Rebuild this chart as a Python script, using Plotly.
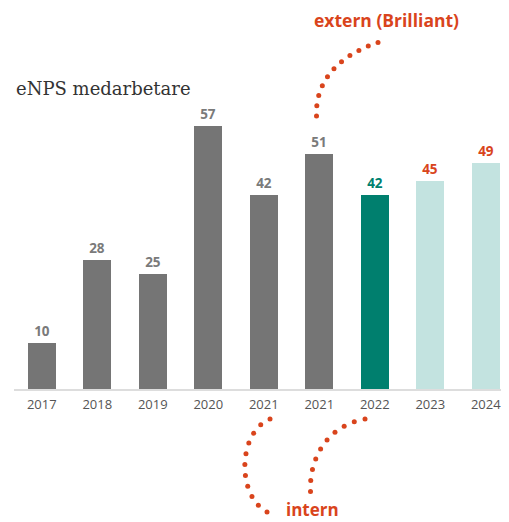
import numpy as np
import plotly.graph_objects as go

# ---- data ----
years = ["2017", "2018", "2019", "2020", "2021", "2021", "2022", "2023", "2024"]
values = [10, 28, 25, 57, 42, 51, 42, 45, 49]
bar_colors = ["#757575"] * 6 + ["#007f6e", "#c3e3e0", "#c3e3e0"]
label_colors = ["#7a7a7a"] * 6 + ["#007f6e", "#d9441c", "#d9441c"]
title_text = "eNPS medarbetare"
note_extern = "extern (Brilliant)"
note_intern = "intern"

OFF = 8  # page body margin
W, H = 509 - OFF, 522
ORANGE = "#d9441c"

# decorative dotted connector curves (cubic Bezier control points, window pixels)
curves = [
    ([(316.5, 116), (315, 80), (340, 55), (378, 42.5)], 11),
    ([(270, 419), (238, 432), (236, 495), (267, 512)], 11),
    ([(365, 419), (330, 425), (309, 455), (310.5, 491.5)], 10),
]


def bezier_dots(ctrl, n):
    p = np.array(ctrl, dtype=float) - OFF
    t = np.linspace(0, 1, 400)[:, None]
    pts = ((1 - t) ** 3) * p[0] + 3 * ((1 - t) ** 2) * t * p[1] + 3 * (1 - t) * t ** 2 * p[2] + t ** 3 * p[3]
    seg = np.sqrt((np.diff(pts, axis=0) ** 2).sum(axis=1))
    s = np.concatenate([[0], np.cumsum(seg)])
    target = np.linspace(0, s[-1], n)
    xs = np.interp(target, s, pts[:, 0])
    ys = np.interp(target, s, pts[:, 1])
    return xs, ys


xpos = list(range(len(years)))

fig = go.Figure()
fig.add_trace(go.Bar(
    x=xpos, y=values, width=0.505,
    marker=dict(color=bar_colors, line=dict(width=0)),
    text=[str(v) for v in values], textposition="outside",
    textfont=dict(family="Open Sans", size=13.5, color=label_colors, weight="bold"),
    cliponaxis=False, hoverinfo="skip",
))

dx, dy = [], []
for ctrl, n in curves:
    xs, ys = bezier_dots(ctrl, n)
    dx += list(xs) + [None]
    dy += list(ys) + [None]

fig.add_trace(go.Scatter(
    x=dx, y=dy, mode="markers", xaxis="x2", yaxis="y2",
    marker=dict(size=5, color=ORANGE), hoverinfo="skip", cliponaxis=False,
))

px_per_unit = (389 - 126) / 57.0
plot_top, base = 60 - OFF, 389 - OFF
left = 14 - OFF
fig.update_layout(
    width=W, height=H,
    margin=dict(l=0, r=0, t=0, b=0),
    paper_bgcolor="white", plot_bgcolor="rgba(0,0,0,0)",
    showlegend=False,
    bargap=0,
    xaxis=dict(
        domain=[left / W, 1], range=[-0.5, -0.5 + (W - left) / 55.5],
        tickvals=xpos, ticktext=years,
        tickfont=dict(family="Open Sans", size=13, color="#555555"),
        showline=True, linecolor="#dddddd", linewidth=2,
        showgrid=False, zeroline=False, ticks="", fixedrange=True,
        ticklabelstandoff=2,
    ),
    yaxis=dict(
        domain=[(H - base) / H, (H - plot_top) / H],
        range=[0, (base - plot_top) / px_per_unit],
        visible=False, showgrid=False, zeroline=False, fixedrange=True,
    ),
    xaxis2=dict(domain=[0, 1], range=[0, W], visible=False, anchor="y2", fixedrange=True),
    yaxis2=dict(domain=[0, 1], range=[H, 0], visible=False, anchor="x2", fixedrange=True),
    annotations=[
        dict(xref="x2", yref="y2", x=14 - OFF, y=88 - OFF, text=title_text, showarrow=False,
             xanchor="left", yanchor="middle",
             font=dict(family="DejaVu Serif", size=18, color="#333333")),
        dict(xref="x2", yref="y2", x=386 - OFF, y=20 - OFF, text=note_extern, showarrow=False,
             xanchor="center", yanchor="middle", borderpad=0,
             font=dict(family="Open Sans", size=17.5, color=ORANGE, weight="bold")),
        dict(xref="x2", yref="y2", x=312 - OFF, y=509.5 - OFF, text=note_intern, showarrow=False,
             xanchor="center", yanchor="middle", borderpad=0,
             font=dict(family="Open Sans", size=17, color=ORANGE, weight="bold")),
    ],
)

fig.write_html("out.html")
